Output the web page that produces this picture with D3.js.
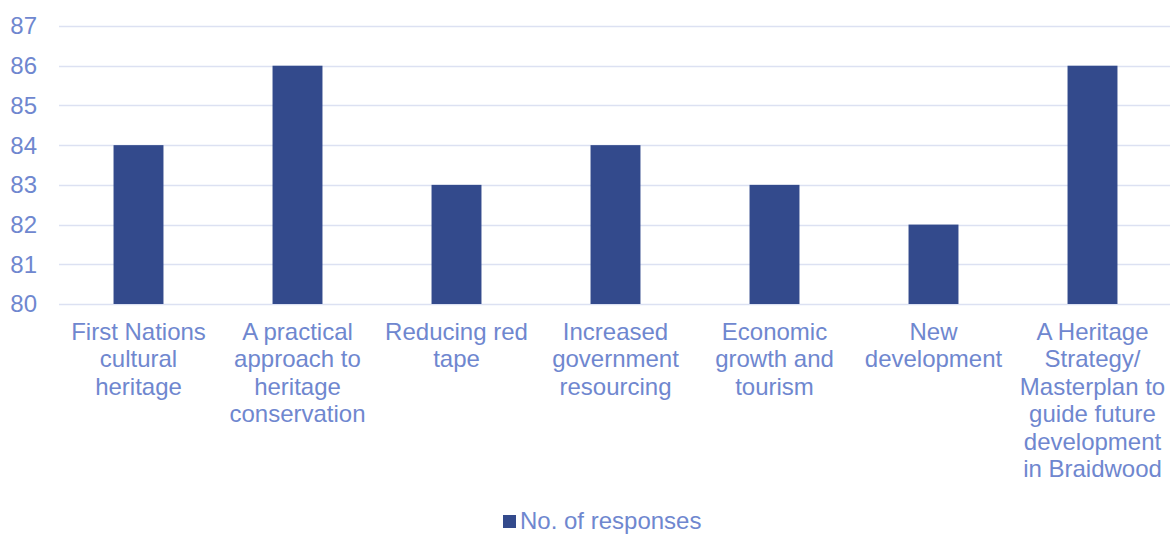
<!DOCTYPE html>
<html><head><meta charset="utf-8">
<script src="https://cdn.jsdelivr.net/npm/d3@7"></script>
<style>body{margin:0;background:#fff}svg{display:block}</style>
</head><body>
<svg id="c" width="1170" height="534"></svg>
<script>
const categories = [
  ["First Nations","cultural","heritage"],
  ["A practical","approach to","heritage","conservation"],
  ["Reducing red","tape"],
  ["Increased","government","resourcing"],
  ["Economic","growth and","tourism"],
  ["New","development"],
  ["A Heritage","Strategy/","Masterplan to","guide future","development","in Braidwood"]
];
const values = [84, 86, 83, 84, 83, 82, 86];
const yTicks = [80, 81, 82, 83, 84, 85, 86, 87];
const seriesName = "No. of responses";

const svg = d3.select("#c");
const textColor = "#6F87CF", barColor = "#334A8C", gridColor = "#DCE1F2";
const font = "'Liberation Sans', Arial, sans-serif";

const x = d3.scaleBand().domain(d3.range(values.length)).range([59, 1172])
  .paddingInner(0.686).paddingOuter(0.343);
const y = d3.scaleLinear().domain([80, 87]).range([304, 26]);

// gridlines
svg.append("g").selectAll("line").data(yTicks).join("line")
  .attr("x1", 59).attr("x2", 1172)
  .attr("y1", d => Math.round(y(d)) + 0.5).attr("y2", d => Math.round(y(d)) + 0.5)
  .attr("stroke", gridColor).attr("stroke-width", 1.5);

// y tick labels
svg.append("g").selectAll("text").data(yTicks).join("text")
  .attr("x", 37).attr("y", d => y(d)).attr("dy", "0.35em")
  .attr("text-anchor", "end").attr("fill", textColor)
  .style("font-family", font).style("font-size", "24px").text(d => d);

// bars
svg.append("g").selectAll("rect").data(values).join("rect")
  .attr("x", (d, i) => x(i)).attr("width", x.bandwidth())
  .attr("y", d => y(d)).attr("height", d => y(80) - y(d))
  .attr("fill", barColor);

// category labels
const lab = svg.append("g").selectAll("text").data(categories).join("text")
  .attr("text-anchor", "middle").attr("fill", textColor)
  .style("font-family", font).style("font-size", "24px");
lab.each(function(lines, i) {
  const t = d3.select(this);
  lines.forEach((l, j) => {
    t.append("tspan").attr("x", x(i) + x.bandwidth() / 2)
      .attr("y", 340 + j * 27.4).text(l);
  });
});

// legend
svg.append("rect").attr("x", 503).attr("y", 515).attr("width", 13).attr("height", 13).attr("fill", barColor);
svg.append("text").attr("x", 520).attr("y", 529).attr("fill", textColor)
  .style("font-family", font).style("font-size", "24px").text(seriesName);
</script>
</body></html>
